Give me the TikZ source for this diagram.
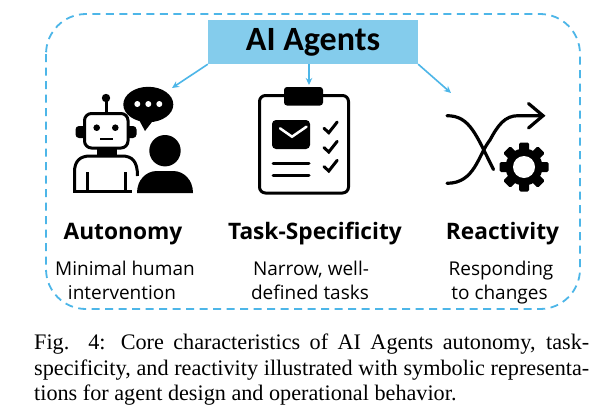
\documentclass[tikz,border=0pt]{standalone}
\usepackage{fontspec}
\setmainfont{Liberation Serif}
\newfontfamily\headfont{Carlito}
\newfontfamily\labfont{Open Sans}
\definecolor{frameblue}{HTML}{4DB6E8}
\definecolor{boxblue}{HTML}{84CCEC}
\usetikzlibrary{arrows.meta}
\tikzset{
  link/.style={draw=frameblue,line width=1.6pt,-{Stealth[length=7pt,width=6.5pt]}},
  frameline/.style={draw=frameblue,line width=1.8pt,dash pattern=on 8pt off 5.5pt,rounded corners=40pt},
  headlabel/.style={font=\labfont\fontsize{22.7}{24}\selectfont\bfseries,anchor=base,inner sep=0pt},
  sublabel/.style={font=\labfont\fontsize{19}{22}\selectfont,anchor=base,inner sep=0pt},
  captionline/.style={font=\fontsize{22.2}{24}\selectfont,anchor=base west,inner sep=0pt,text=black},
  ink/.style={line width=3pt,line cap=round,line join=round},
}
\begin{document}
\begin{tikzpicture}[x=1pt,y=-1pt]
\useasboundingbox (0,0) rectangle (604,418);
\fill[white] (0,0) rectangle (604,418);
% frame
\draw[frameline] (46,14) rectangle (580,309);
% title
\node[fill=boxblue,minimum width=210pt,minimum height=44pt,inner sep=0pt,
  font=\headfont\fontsize{34}{36}\selectfont\bfseries] (title) at (313,42) {AI Agents};
\coordinate (aL) at (172,88);
\coordinate (aM) at (309,85);
\coordinate (aR) at (451,93);
\draw[link] (title.south west) -- (aL);
\draw[link] (title.south -| aM) -- (aM);
\draw[link] (title.south east) -- (aR);
% robot
\fill[rounded corners=3.5pt] (75.5,126) rectangle (88,138);
\fill[rounded corners=3.5pt] (125,126) rectangle (136.5,138);
\draw[ink,fill=white,rounded corners=7pt] (84.5,113.5) rectangle (128,148);
\draw[ink] (106,98) -- (106,113);
\fill (106,98) circle (4.2);
\fill (96.7,127.7) circle (3.3) (115.3,127.7) circle (3.3);
\fill (100,137.5) rectangle (113,140);
\fill (97,148) rectangle (117,155);
\draw[ink,line cap=butt] (74.5,191.5) -- (74.5,172) .. controls (74.5,161) and (80,156) .. (90,156) -- (122,156) .. controls (132,156) and (137.5,161) .. (137.5,176);
\draw[ink,line cap=butt] (73,191.5) -- (132,191.5);
\draw[ink,line cap=butt] (87,172) -- (87,191) (125,172) -- (125,191);
% speech bubble
\fill (148.3,104.5) ellipse (25 and 17.7);
\fill (138,118) -- (145,131) -- (155,118) -- cycle;
\fill[white] (137.3,104) circle (3) (148.3,104) circle (3) (159.3,104) circle (3);
% person
\fill (165,150.7) circle (15.7);
\fill (137,193) .. controls (137,180) and (146,171) .. (157,171) -- (173,171) .. controls (184,171) and (193,180) .. (193,193) -- cycle;
% clipboard
\draw[ink,rounded corners=6pt] (259.5,95.5) rectangle (348.5,193);
\fill[rounded corners=3pt] (284,87) rectangle (323,105.5);
\fill[rounded corners=4pt] (272,120) rectangle (310,149);
\draw[white,line width=2.5pt,line cap=round,line join=miter] (280,128.3) -- (292,136.7) -- (306.5,126.7);
\draw[line width=3pt,line cap=round] (273,163.3) -- (309,163.3) (273,175) -- (309,175);
\foreach \d in {0,19.3,38.3}
  \draw[line width=3pt,line cap=round,line join=miter] (324,128.3+\d) -- (328.8,132.7+\d) -- (337.2,122+\d);
% shuffle
\draw[line width=3.2pt,line cap=round] (447,115.7) .. controls (470,115.7) and (476,135) .. (493.5,169.5);
\draw[line width=3.2pt,line cap=round,line join=miter] (447,183.3) .. controls (475,183.3) and (478,155) .. (490,140) .. controls (498,125) and (505,115.7) .. (518,115.7) -- (542,115.7);
\draw[line width=3.2pt,line cap=round,line join=miter] (528.5,103.5) -- (543,115.7) -- (528.5,128);
% gear
\fill (524,167) circle (18.5);
\foreach \a in {0,45,...,315}
  \fill[rounded corners=1.5pt,rotate around={\a:(524,167)}] (519,142.5) rectangle (529,155);
\fill[white] (524,167) circle (11);
% labels
\node[headlabel] (l1) at (123,239) {Autonomy};
\node[headlabel] (l2) at (315,239) {Task-Specificity};
\node[headlabel] (l3) at (502.5,239) {Reactivity};
\node[sublabel] (s1a) at (125,275) {Minimal human};
\node[sublabel] (s1b) at (122,299) {intervention};
\node[sublabel] (s2a) at (311,275) {Narrow, well-};
\node[sublabel] (s2b) at (310,299) {defined tasks};
\node[sublabel] (s3a) at (501,275) {Responding};
\node[sublabel] (s3b) at (499.5,299) {to changes};
% caption
\node[captionline] (c1) at (34,349.5) {\makebox[555pt][s]{Fig. 4: Core characteristics of AI Agents autonomy, task-}};
\node[captionline] (c2) at (34,375) {\makebox[555pt][s]{specificity, and reactivity illustrated with symbolic representa-}};
\node[captionline] (c3) at (34,400.5) {tions for agent design and operational behavior.};
\end{tikzpicture}
\end{document}
